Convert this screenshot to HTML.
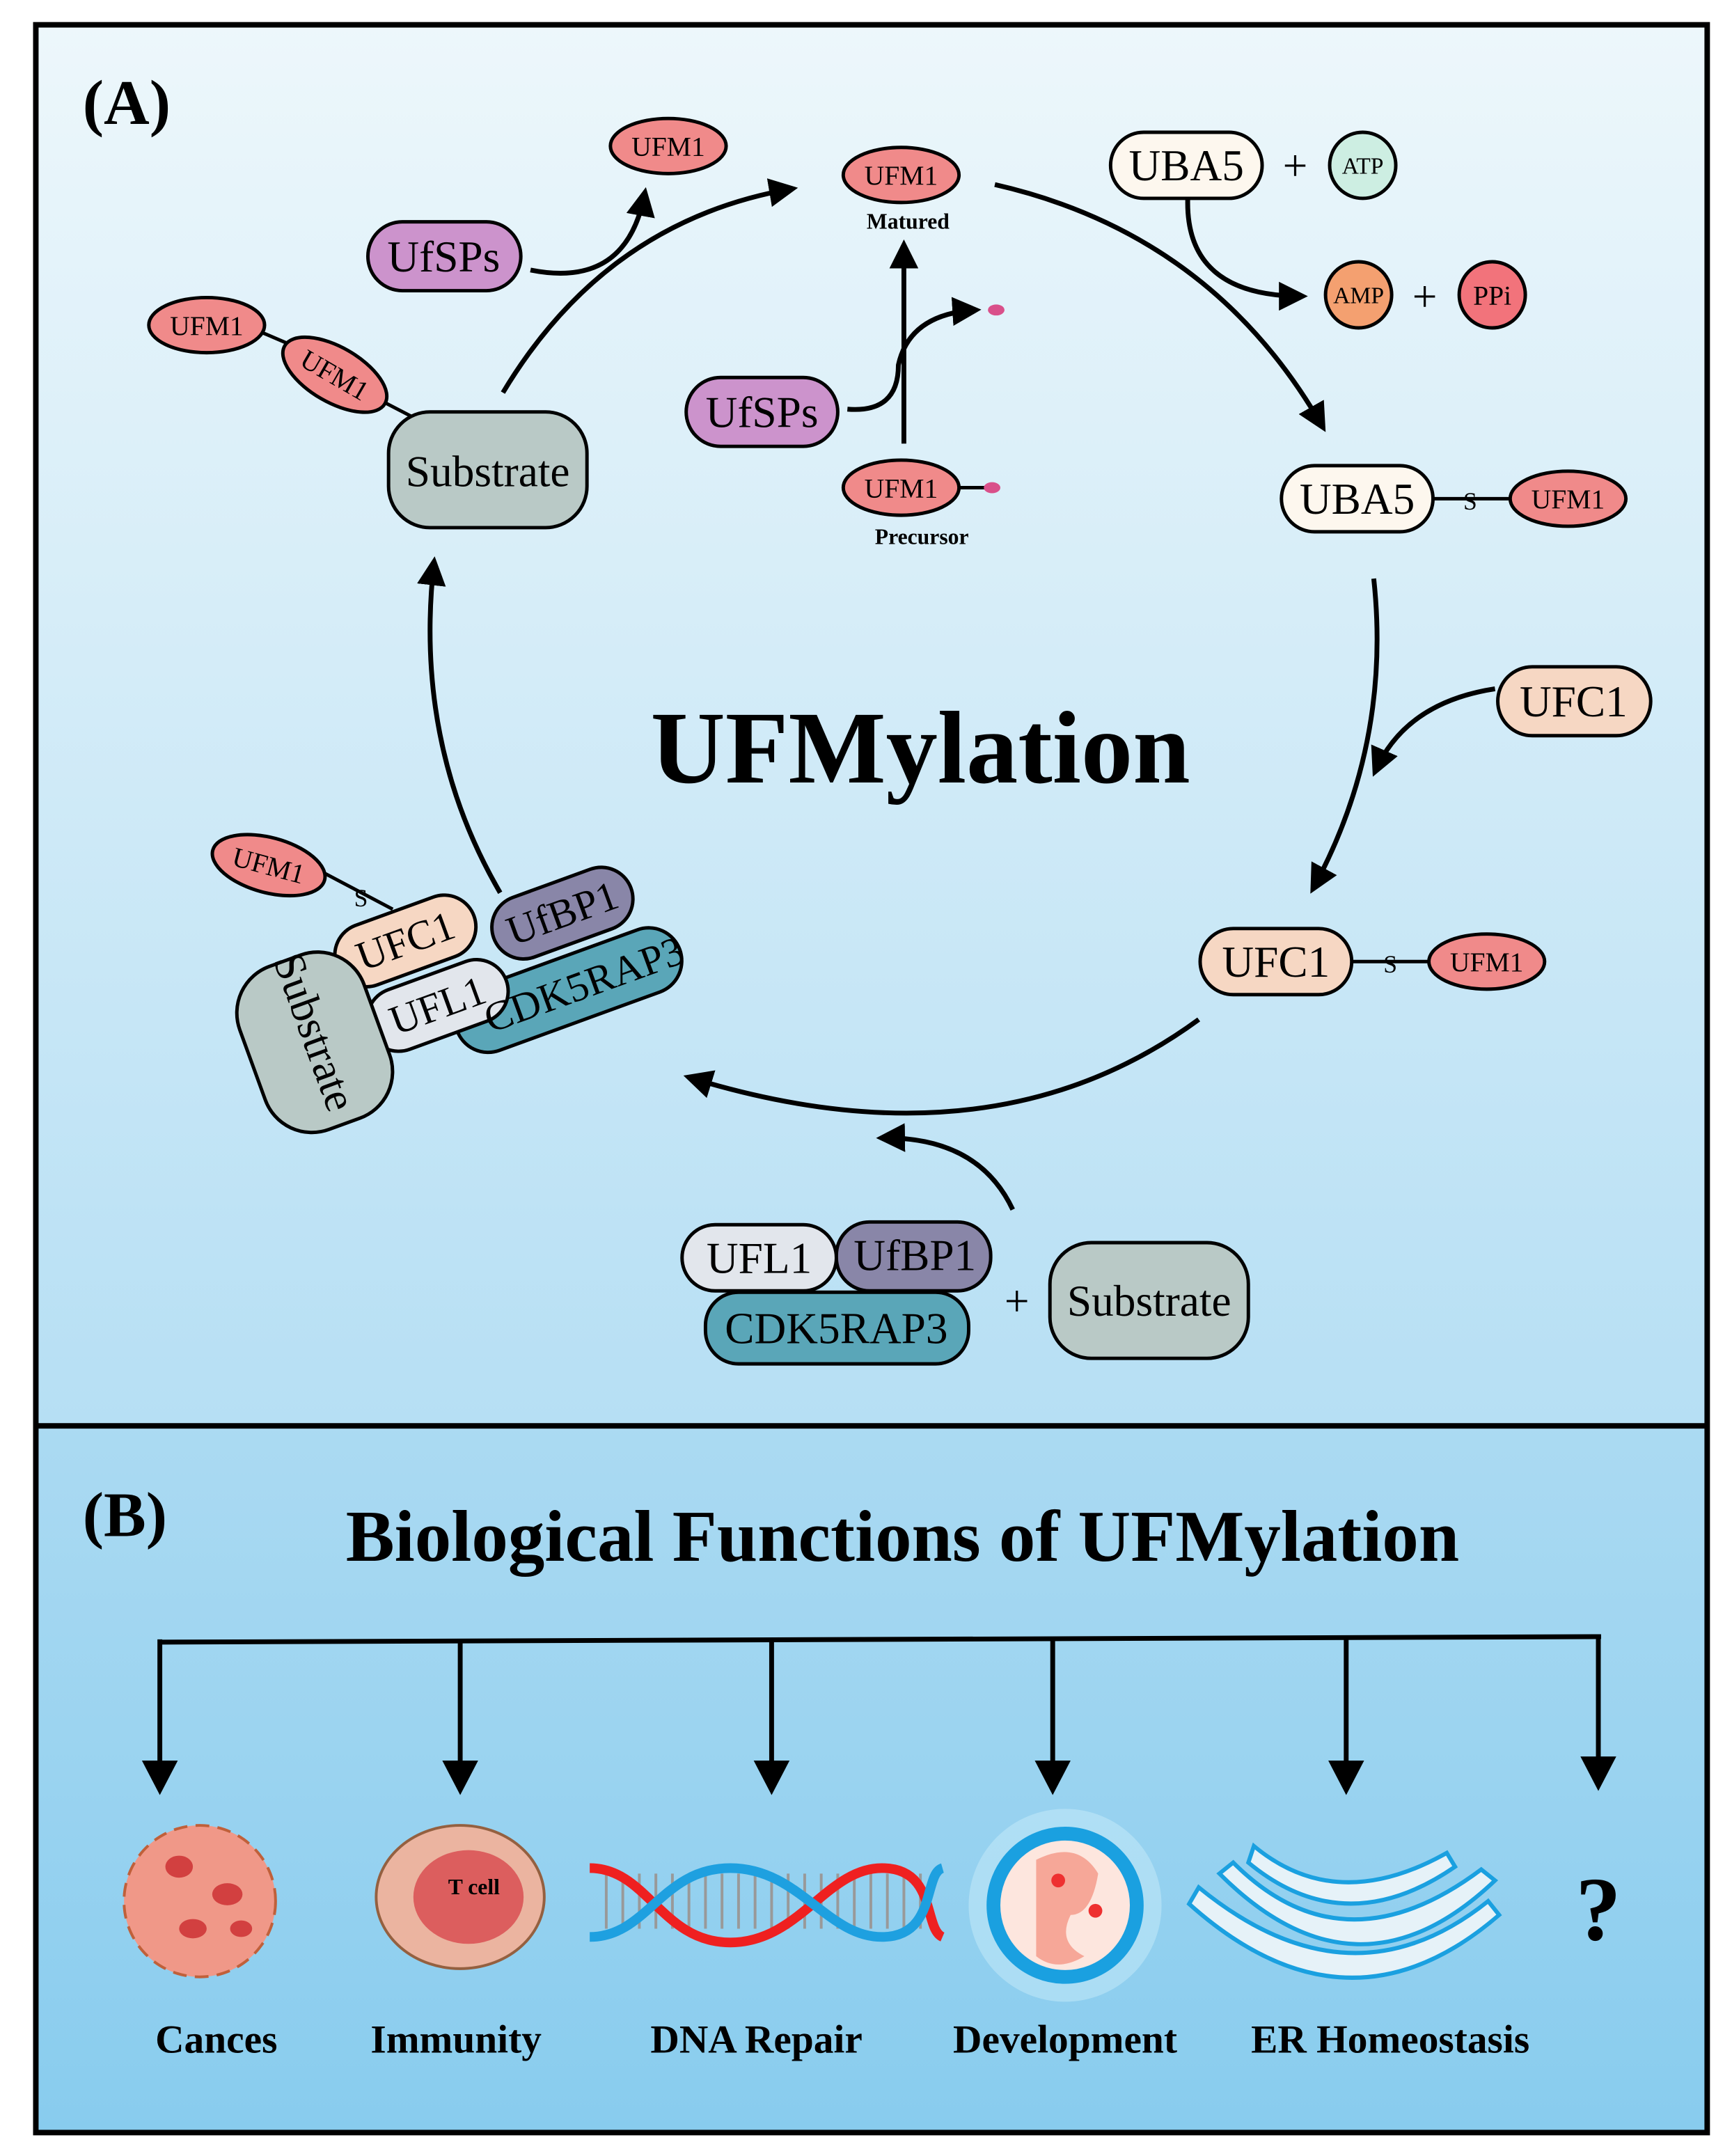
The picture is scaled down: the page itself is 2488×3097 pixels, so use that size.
<!DOCTYPE html>
<html><head><meta charset="utf-8"><style>
html,body{margin:0;padding:0;background:#fff;}
svg{display:block;}
text{font-family:"Liberation Serif",serif;}
</style></head><body>
<svg width="2488" height="3097" viewBox="0 0 1257 1565" preserveAspectRatio="none" xmlns="http://www.w3.org/2000/svg">
<defs>
<linearGradient id="ga" x1="0" y1="0" x2="0" y2="1"><stop offset="0" stop-color="#edf7fb"/><stop offset="1" stop-color="#b6dff4"/></linearGradient>
<linearGradient id="gb" x1="0" y1="0" x2="0" y2="1"><stop offset="0" stop-color="#abdaf2"/><stop offset="1" stop-color="#88ccee"/></linearGradient>
<marker id="ah" viewBox="0 0 10 10" refX="8" refY="5" markerWidth="6" markerHeight="6" orient="auto"><path d="M0,0L10,5L0,10z" fill="#000"/></marker>
</defs>
<rect x="0" y="0" width="1257" height="1565" fill="#fff"/>
<rect x="26" y="18" width="1213" height="1017" fill="url(#ga)"/>
<rect x="26" y="1035" width="1213" height="513" fill="url(#gb)"/>
<rect x="26" y="18" width="1213" height="1530" fill="none" stroke="#000" stroke-width="4"/>
<line x1="26" y1="1035" x2="1239" y2="1035" stroke="#000" stroke-width="4"/>

<text x="60" y="90" font-size="46" font-weight="bold">(A)</text>
<text x="60" y="1115" font-size="46" font-weight="bold">(B)</text>
<text x="668" y="568" font-size="75" font-weight="bold" text-anchor="middle">UFMylation</text>
<text x="655" y="1133" font-size="53" font-weight="bold" text-anchor="middle">Biological Functions of UFMylation</text>

<g fill="none" stroke="#000" stroke-width="3.5">
<path d="M365,285 Q440,160 575,137" marker-end="url(#ah)"/>
<path d="M722,134 Q880,170 960,310" marker-end="url(#ah)"/>
<path d="M997,420 Q1010,540 953,645" marker-end="url(#ah)"/>
<path d="M870,740 Q720,850 500,782" marker-end="url(#ah)"/>
<path d="M363,648 Q300,540 315,408" marker-end="url(#ah)"/>
<path d="M385,196 Q455,210 468,140" marker-end="url(#ah)"/>
<path d="M862,144 Q860,215 945,215" marker-end="url(#ah)"/>
<path d="M1085,500 Q1020,510 998,560" marker-end="url(#ah)"/>
<path d="M735,878 Q710,825 640,826" marker-end="url(#ah)"/>
<path d="M656,322 L656,178" marker-end="url(#ah)"/>
<path d="M615,297 Q652,300 652,265 Q660,228 708,225" marker-end="url(#ah)"/>
</g>
<g stroke="#000" stroke-width="3.5">
<line x1="116" y1="1192" x2="1162" y2="1188"/>
<line x1="116" y1="1190" x2="116" y2="1285"/><path d="M103,1278h26l-13,25z" stroke="none"/>
<line x1="334" y1="1190" x2="334" y2="1285"/><path d="M321,1278h26l-13,25z" stroke="none"/>
<line x1="560" y1="1190" x2="560" y2="1285"/><path d="M547,1278h26l-13,25z" stroke="none"/>
<line x1="764" y1="1190" x2="764" y2="1285"/><path d="M751,1278h26l-13,25z" stroke="none"/>
<line x1="977" y1="1190" x2="977" y2="1285"/><path d="M964,1278h26l-13,25z" stroke="none"/>
<line x1="1160" y1="1188" x2="1160" y2="1282"/><path d="M1147,1275h26l-13,25z" stroke="none"/>
</g>

<g stroke="#000" stroke-width="2.5" font-size="20">
<ellipse cx="485" cy="106" rx="42" ry="20" fill="#f08a8a"/>
<ellipse cx="654" cy="127" rx="42" ry="20" fill="#f08a8a"/>
<ellipse cx="654" cy="354" rx="42" ry="20" fill="#f08a8a"/>
<line x1="696" y1="354" x2="715" y2="354"/>
<ellipse cx="720" cy="354" rx="6" ry="4" fill="#d9508a" stroke="none"/>
<ellipse cx="723" cy="225" rx="6" ry="4" fill="#d9508a" stroke="none"/>
<rect x="267" y="161" width="111" height="50" rx="25" fill="#cc93cc"/>
<rect x="498" y="274" width="110" height="50" rx="25" fill="#cc93cc"/>
<rect x="806" y="96" width="110" height="48" rx="24" fill="#fdf7ee"/>
<circle cx="989" cy="120" r="24" fill="#cdeee2"/>
<circle cx="986" cy="214" r="24" fill="#f4a070"/>
<circle cx="1083" cy="214" r="24" fill="#f2737b"/>
<rect x="930" y="338" width="110" height="48" rx="24" fill="#fdf7ee"/>
<line x1="1040" y1="362" x2="1097" y2="362"/>
<ellipse cx="1138" cy="362" rx="42" ry="20" fill="#f08a8a"/>
<rect x="1087" y="484" width="111" height="50" rx="25" fill="#f6d7c3"/>
<rect x="871" y="674" width="110" height="48" rx="24" fill="#f6d7c3"/>
<line x1="981" y1="698" x2="1038" y2="698"/>
<ellipse cx="1079" cy="698" rx="42" ry="20" fill="#f08a8a"/>
<line x1="180" y1="237" x2="215" y2="252"/>
<line x1="275" y1="290" x2="300" y2="303"/>
<ellipse cx="150" cy="236" rx="42" ry="20" fill="#f08a8a"/>
<ellipse cx="243" cy="272" rx="42" ry="20" fill="#f08a8a" transform="rotate(30 243 272)"/>
<rect x="282" y="299" width="144" height="84" rx="30" fill="#b9c9c6"/>
<rect x="495" y="889" width="112" height="48" rx="24" fill="#e2e6ec"/>
<rect x="607" y="887" width="112" height="50" rx="24" fill="#8986a8"/>
<rect x="512" y="938" width="191" height="52" rx="24" fill="#5aa6b8"/>
<rect x="762" y="902" width="144" height="84" rx="30" fill="#b9c9c6"/>
<g transform="rotate(-20 330 720)">
<rect x="322" y="723" width="172" height="48" rx="24" fill="#5aa6b8"/>
<rect x="370" y="670" width="106" height="46" rx="23" fill="#8986a8"/>
<rect x="262" y="702" width="106" height="46" rx="23" fill="#e2e6ec"/>
<rect x="256" y="650" width="106" height="46" rx="23" fill="#f6d7c3"/>
</g>
<rect x="178" y="694" width="96" height="126" rx="36" fill="#b9c9c6" transform="rotate(-20 226 750)"/>
<line x1="232" y1="632" x2="285" y2="660"/>
<ellipse cx="195" cy="628" rx="42" ry="20" fill="#f08a8a" transform="rotate(15 195 628)"/>
</g>
<g font-size="20" text-anchor="middle">
<text x="485" y="113">UFM1</text>
<text x="654" y="134">UFM1</text>
<text x="654" y="361">UFM1</text>
<text x="1138" y="369">UFM1</text>
<text x="1079" y="705">UFM1</text>
<text x="150" y="243">UFM1</text>
<text x="243" y="279" transform="rotate(30 243 272)">UFM1</text>
<text x="195" y="635" transform="rotate(15 195 628)">UFM1</text>
<text x="989" y="126" font-size="17">ATP</text>
<text x="986" y="220" font-size="17">AMP</text>
<text x="1083" y="221">PPi</text>
<text x="1067" y="370" font-size="18">S</text>
<text x="1009" y="706" font-size="18">S</text>
<text x="262" y="658" font-size="18">S</text>
<text x="659" y="166" font-size="16" font-weight="bold">Matured</text>
<text x="669" y="395" font-size="16" font-weight="bold">Precursor</text>
</g>
<g font-size="32" text-anchor="middle">
<text x="322" y="197">UfSPs</text>
<text x="553" y="310">UfSPs</text>
<text x="861" y="131">UBA5</text>
<text x="985" y="373">UBA5</text>
<text x="1142" y="520">UFC1</text>
<text x="926" y="709">UFC1</text>
<text x="354" y="353">Substrate</text>
<text x="834" y="955">Substrate</text>
<text x="551" y="924">UFL1</text>
<text x="664" y="922">UfBP1</text>
<text x="607" y="975">CDK5RAP3</text>
<text x="940" y="131">+</text>
<text x="1034" y="226">+</text>
<text x="738" y="955">+</text>
<text x="226" y="758" transform="rotate(70 226 750)">Substrate</text>
<g transform="rotate(-20 330 720)" font-size="30">
<text x="309" y="683">UFC1</text>
<text x="315" y="735">UFL1</text>
<text x="423" y="703">UfBP1</text>
<text x="420" y="757">CDK5RAP3</text>
</g>
</g>

<g>
<circle cx="145" cy="1380" r="55" fill="#f09888" stroke="#c0603a" stroke-width="2" stroke-dasharray="10 6"/>
<ellipse cx="130" cy="1355" rx="10" ry="8" fill="#d24040"/><ellipse cx="165" cy="1375" rx="11" ry="8" fill="#d24040"/><ellipse cx="140" cy="1400" rx="10" ry="7" fill="#d24040"/><ellipse cx="175" cy="1400" rx="8" ry="6" fill="#d24040"/>
<ellipse cx="334" cy="1377" rx="61" ry="52" fill="#ebb4a0" stroke="#946040" stroke-width="2"/>
<ellipse cx="340" cy="1377" rx="40" ry="34" fill="#dc5e5e"/>
<text x="344" y="1375" font-size="16" font-weight="bold" text-anchor="middle">T cell</text>
<g stroke="#999" stroke-width="2">
<path d="M440,1360v40M452,1360v40M464,1360v40M476,1360v40M488,1360v40M500,1360v40M512,1360v40M524,1360v40M536,1360v40M548,1360v40M560,1360v40M572,1360v40M584,1360v40M596,1360v40M608,1360v40M620,1360v40M632,1360v40M644,1360v40M656,1360v40M668,1360v40"/>
</g>
<path d="M428,1356 C470,1356 480,1410 530,1410 S600,1356 640,1356 S670,1400 684,1406" fill="none" stroke="#ef2020" stroke-width="7"/>
<path d="M428,1406 C470,1406 480,1356 530,1356 S600,1406 640,1406 S670,1360 684,1356" fill="none" stroke="#1ea0e0" stroke-width="7"/>
<circle cx="773" cy="1383" r="70" fill="#c8ecfa" opacity="0.5"/>
<circle cx="773" cy="1383" r="52" fill="#fde6de" stroke="#1aa0e0" stroke-width="10"/>
<path d="M752,1350 q30,-15 45,10 q-5,30 -20,30 q-10,20 10,30 q-20,12 -35,0 z" fill="#f6a798"/>
<circle cx="768" cy="1365" r="5" fill="#ee3030"/><circle cx="795" cy="1387" r="5" fill="#ee3030"/>
<g fill="#e6f2f8" stroke="#1aa0e0" stroke-width="3">
<path d="M895,1352 q80,80 180,5 l10,8 q-100,95 -200,-5z"/>
<path d="M870,1370 q110,90 210,10 l8,10 q-110,95 -225,-8z"/>
<path d="M910,1340 q60,50 140,5 l6,10 q-80,55 -150,-3z"/>
</g>
<text x="1160" y="1408" font-family="Liberation Sans,sans-serif" font-size="66" font-weight="bold" text-anchor="middle">?</text>
</g>
<g font-size="29" font-weight="bold" text-anchor="middle">
<text x="157" y="1490">Cances</text>
<text x="331" y="1490">Immunity</text>
<text x="549" y="1490">DNA Repair</text>
<text x="773" y="1490">Development</text>
<text x="1009" y="1490">ER Homeostasis</text>
</g>
</svg>
</body></html>
